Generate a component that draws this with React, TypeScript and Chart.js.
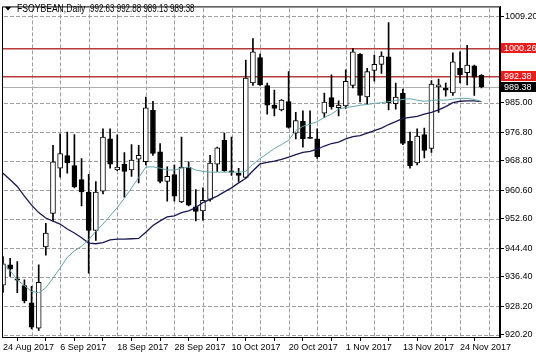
import React, { useEffect, useRef } from 'react';
import { Chart, registerables } from 'chart.js';

Chart.register(...registerables);

const dates = [
  '24 Aug 2017', '25 Aug 2017', '28 Aug 2017', '29 Aug 2017', '30 Aug 2017', '31 Aug 2017',
  '1 Sep 2017', '5 Sep 2017', '6 Sep 2017', '7 Sep 2017', '8 Sep 2017', '11 Sep 2017',
  '12 Sep 2017', '13 Sep 2017', '14 Sep 2017', '15 Sep 2017', '18 Sep 2017', '19 Sep 2017',
  '20 Sep 2017', '21 Sep 2017', '22 Sep 2017', '25 Sep 2017', '26 Sep 2017', '27 Sep 2017',
  '28 Sep 2017', '29 Sep 2017', '2 Oct 2017', '3 Oct 2017', '4 Oct 2017', '5 Oct 2017',
  '6 Oct 2017', '9 Oct 2017', '10 Oct 2017', '11 Oct 2017', '12 Oct 2017', '13 Oct 2017',
  '16 Oct 2017', '17 Oct 2017', '18 Oct 2017', '19 Oct 2017', '20 Oct 2017', '23 Oct 2017',
  '24 Oct 2017', '25 Oct 2017', '26 Oct 2017', '27 Oct 2017', '30 Oct 2017', '31 Oct 2017',
  '1 Nov 2017', '2 Nov 2017', '3 Nov 2017', '6 Nov 2017', '7 Nov 2017', '8 Nov 2017',
  '9 Nov 2017', '10 Nov 2017', '13 Nov 2017', '14 Nov 2017', '15 Nov 2017', '16 Nov 2017',
  '17 Nov 2017', '20 Nov 2017', '21 Nov 2017', '22 Nov 2017', '24 Nov 2017', '27 Nov 2017',
  '28 Nov 2017', '29 Nov 2017',
];

const opens = [
  934.0, 939.7, 935.8, 933.9, 929.1, 922.0, 944.7, 954.1, 966.7, 970.2,
  967.4, 963.5, 960.0, 949.3, 960.3, 974.9, 966.2, 967.8, 966.2, 969.2,
  968.5, 982.9, 971.3, 963.0, 964.9, 957.3, 967.0, 955.9, 954.8, 958.0,
  967.8, 974.5, 966.0, 965.3, 964.1, 990.5, 997.6, 989.8, 984.3, 983.0,
  985.3, 976.5, 979.8, 975.3, 974.9, 982.1, 986.4, 983.6, 984.1, 989.8,
  998.6, 986.6, 994.0, 995.7, 997.8, 984.7, 987.6, 974.2, 968.2, 976.1,
  972.2, 989.4, 989.1, 987.7, 994.6, 993.4, 995.3, 992.63,
];
const highs = [
  942.0, 941.5, 940.6, 935.5, 933.7, 939.7, 951.3, 973.1, 976.3, 976.8,
  976.1, 969.4, 965.0, 963.0, 977.7, 977.7, 976.0, 971.1, 973.3, 973.1,
  986.6, 985.4, 973.6, 967.1, 967.6, 975.4, 968.5, 960.7, 961.2, 970.3,
  972.6, 976.5, 975.4, 966.7, 996.9, 1002.9, 998.6, 990.5, 988.5, 985.9,
  993.7, 982.3, 982.7, 982.7, 977.7, 987.7, 992.8, 985.5, 994.2, 1000.1,
  998.7, 994.6, 998.3, 999.2, 1007.4, 990.5, 988.8, 976.8, 977.7, 977.9,
  991.2, 991.6, 990.5, 998.9, 999.2, 1001.0, 995.5, 992.88,
];
const lows = [
  932.0, 936.5, 931.9, 929.1, 921.8, 921.4, 942.4, 952.0, 964.2, 965.3,
  961.2, 956.2, 937.4, 946.5, 959.5, 966.7, 966.0, 958.6, 964.4, 962.6,
  967.6, 970.3, 962.6, 957.5, 957.5, 957.1, 956.2, 952.0, 952.2, 957.5,
  965.8, 965.8, 964.7, 963.0, 963.9, 989.8, 989.8, 981.8, 981.3, 982.7,
  977.9, 974.9, 972.6, 975.0, 969.4, 980.9, 983.2, 981.3, 983.4, 989.1,
  985.2, 984.5, 991.0, 993.2, 983.0, 983.2, 973.3, 966.7, 967.6, 969.6,
  971.1, 982.3, 986.8, 987.0, 990.5, 990.0, 987.0, 989.13,
];
const closes = [
  940.0, 938.5, 935.4, 929.6, 922.3, 934.8, 948.6, 968.5, 970.8, 968.2,
  961.5, 960.1, 949.3, 960.0, 975.4, 967.8, 967.0, 965.8, 969.0, 970.3,
  983.6, 970.8, 963.0, 964.4, 958.9, 967.0, 956.4, 954.6, 957.7, 968.1,
  972.4, 966.0, 965.6, 964.7, 991.9, 999.2, 990.0, 984.3, 983.4, 985.7,
  978.1, 980.0, 974.9, 975.0, 969.9, 985.2, 983.9, 984.3, 991.0, 999.2,
  987.0, 993.7, 995.7, 998.0, 985.0, 986.6, 973.6, 967.4, 975.7, 971.7,
  990.2, 990.0, 988.5, 996.4, 992.8, 995.5, 992.1, 989.38,
];

const fastMA = [
  940.1, 938.1, 935.5, 933.9, 932.3, 931.9, 933.3, 936.0, 938.8, 941.8,
  943.6, 944.9, 946.7, 949.1, 951.1, 953.4, 955.7, 958.3, 961.2, 964.1,
  967.0, 967.1, 966.7, 966.2, 966.2, 966.7, 967.0, 966.2, 965.8, 965.6,
  965.6, 965.6, 965.6, 965.6, 965.8, 967.8, 969.4, 970.8, 972.2, 973.3,
  974.5, 977.2, 978.4, 979.0, 979.7, 980.9, 981.8, 983.2, 983.7, 983.9,
  984.3, 984.5, 984.8, 985.0, 985.3, 985.6, 985.9, 986.1, 985.7, 985.4,
  985.6, 985.8, 985.7, 986.0, 986.2, 986.2, 985.9, 985.3,
];
const slowMA = [
  965.3, 963.5, 961.6, 958.9, 956.4, 954.3, 952.8, 951.9, 951.1, 949.7,
  948.6, 947.3, 945.8, 945.6, 945.9, 946.7, 946.9, 946.9, 947.0, 947.1,
  948.8, 950.7, 952.0, 953.1, 953.4, 954.3, 954.8, 955.7, 957.1, 958.0,
  958.9, 960.1, 961.2, 962.6, 963.9, 966.0, 967.9, 968.3, 968.7, 969.2,
  969.8, 970.5, 971.1, 971.4, 972.0, 972.9, 973.6, 974.0, 974.9, 975.5,
  975.8, 976.5, 977.2, 977.9, 978.9, 979.7, 980.6, 980.9, 981.2, 981.8,
  982.3, 983.0, 983.9, 985.0, 985.4, 985.5, 985.5, 985.3,
];

const yTickValues = [920.2, 928.2, 936.4, 944.4, 952.6, 960.6, 968.8, 976.8, 985.0, 1009.2];
const xGridStep = 4;
const xLabelStep = 8;
const resistanceLevel = 1000.26;
const supportLevel = 992.38;
const bidLevel = 989.38;
const titleSymbol = 'FSOYBEAN,Daily';
const titleValues = '992.63 992.88 989.13 989.38';

const FONT = '"Liberation Sans", Arial, sans-serif';

export default function App() {
  const canvasRef = useRef<HTMLCanvasElement | null>(null);

  useEffect(() => {
    const canvas = canvasRef.current;
    if (!canvas) return;
    Chart.defaults.font.family = FONT;
    Chart.defaults.font.size = 9;
    Chart.defaults.color = '#000';

    const n = dates.length;
    const idx = dates.map((_, i) => i);
    const xTickValues: number[] = [];
    for (let v = 0; v <= n; v += xGridStep) xTickValues.push(v);

    const gridPlugin = {
      id: 'mtGrid',
      beforeDatasetsDraw(chart: any) {
        const ctx = chart.ctx;
        const area = chart.chartArea;
        const xs = chart.scales.x;
        const ys = chart.scales.y;
        ctx.save();
        ctx.fillStyle = 'rgb(158,158,158)';
        for (let k = 0; k < xTickValues.length; k++) {
          const v = xTickValues[k];
          if (v === 0) continue;
          const x = Math.round(xs.getPixelForValue(v));
          for (let y = area.top + 2; y < area.bottom - 1; y += 6) {
            ctx.fillRect(x, y, 1, 4);
          }
        }
        for (let k = 0; k < yTickValues.length; k++) {
          const y = Math.round(ys.getPixelForValue(yTickValues[k]));
          for (let x = area.left + 2; x < area.right - 1; x += 6) {
            ctx.fillRect(x, y, 4, 1);
          }
        }
        const hline = (v: number, color: string, h: number) => {
          const y = Math.round(ys.getPixelForValue(v));
          ctx.fillStyle = color;
          ctx.fillRect(area.left, y, area.right - area.left, h);
        };
        hline(resistanceLevel, 'rgb(180,60,60)', 1.5);
        hline(supportLevel, 'rgb(180,60,60)', 1.5);
        hline(bidLevel, 'rgb(175,175,175)', 1);
        ctx.restore();
      },
    };

    const overlayPlugin = {
      id: 'mtOverlay',
      afterDraw(chart: any) {
        const { ctx, chartArea } = chart;
        const ys = chart.scales.y;
        ctx.save();
        ctx.strokeStyle = '#000';
        ctx.lineWidth = 1;
        ctx.strokeRect(chartArea.left + 0.5, chartArea.top + 0.5,
          chartArea.right - chartArea.left - 1, chartArea.bottom - chartArea.top);
        ctx.fillStyle = '#000';
        ctx.beginPath();
        ctx.moveTo(5, 7);
        ctx.lineTo(11, 7);
        ctx.lineTo(8, 10.5);
        ctx.closePath();
        ctx.fill();
        ctx.textBaseline = 'middle';
        ctx.textAlign = 'left';
        ctx.save();
        ctx.font = '10px ' + FONT;
        ctx.translate(17, 9);
        ctx.scale(0.86, 1);
        ctx.fillText(titleSymbol, 0, 0);
        ctx.restore();
        ctx.save();
        ctx.font = '10px ' + FONT;
        ctx.translate(90, 9);
        ctx.scale(0.8, 1);
        ctx.fillText(titleValues, 0, 0);
        ctx.restore();
        ctx.font = '9px ' + FONT;
        const tag = (v: number, bg: string) => {
          const y = Math.round(ys.getPixelForValue(v));
          ctx.fillStyle = bg;
          ctx.fillRect(chartArea.right + 1, y - 5, 36, 10);
          ctx.fillStyle = '#fff';
          ctx.fillText(v.toFixed(2), chartArea.right + 4, y + 0.5);
        };
        tag(resistanceLevel, 'rgb(232,30,30)');
        tag(supportLevel, 'rgb(232,30,30)');
        tag(bidLevel, '#000');
        ctx.restore();
      },
    };

    const chart = new Chart(canvas, {
      type: 'bar',
      data: {
        datasets: [
          {
            type: 'line',
            label: 'MA fast',
            data: idx.map((i) => ({ x: i, y: fastMA[i] })),
            borderColor: 'rgb(100,165,170)',
            borderWidth: 1,
            pointRadius: 0,
            tension: 0,
            order: 0,
          } as any,
          {
            type: 'line',
            label: 'MA slow',
            data: idx.map((i) => ({ x: i, y: slowMA[i] })),
            borderColor: 'rgb(25,25,80)',
            borderWidth: 1.3,
            pointRadius: 0,
            tension: 0,
            order: 0,
          } as any,
          {
            type: 'bar',
            label: 'Body',
            data: idx.map((i) => ({ x: i, y: [opens[i], closes[i]] })),
            backgroundColor: idx.map((i) => (closes[i] >= opens[i] ? '#fff' : '#000')),
            borderColor: '#000',
            borderWidth: 1,
            borderSkipped: false,
            barThickness: 5,
            minBarLength: 1,
            grouped: false,
            order: 1,
          } as any,
          {
            type: 'bar',
            label: 'Wick',
            data: idx.map((i) => ({ x: i, y: [lows[i], highs[i]] })),
            backgroundColor: '#000',
            borderWidth: 0,
            barThickness: 1,
            grouped: false,
            order: 2,
          } as any,
        ],
      },
      options: {
        animation: false,
        responsive: false,
        layout: { padding: { top: 2, left: 2, right: 0, bottom: 0 } },
        plugins: { legend: { display: false }, tooltip: { enabled: false } },
        scales: {
          x: {
            type: 'linear',
            min: -0.14,
            max: 69.6,
            offset: false,
            afterBuildTicks: (s: any) => {
              s.ticks = xTickValues.map((v) => ({ value: v }));
            },
            afterFit: (s: any) => { s.height = 20; },
            ticks: {
              autoSkip: false,
              maxRotation: 0,
              minRotation: 0,
              align: 'start',
              padding: 1,
              color: '#000',
              font: { size: 9, family: FONT },
              callback: (v: any) => (v % xLabelStep === 0 && v < n ? dates[v] : ''),
            },
            grid: {
              drawOnChartArea: false,
              color: '#000',
              tickLength: 4,
              tickColor: '#000',
            },
            border: { display: true, color: '#000', width: 1 },
          },
          y: {
            type: 'linear',
            position: 'right',
            min: 919.55,
            max: 1011.9,
            afterBuildTicks: (s: any) => {
              s.ticks = yTickValues.map((v) => ({ value: v }));
            },
            afterFit: (s: any) => { s.width = 36; },
            ticks: {
              autoSkip: false,
              padding: 1,
              color: '#000',
              font: { size: 9, family: FONT },
              callback: (v: any) => Number(v).toFixed(2),
            },
            grid: {
              drawOnChartArea: false,
              color: '#000',
              tickLength: 4,
              tickColor: '#000',
            },
            border: { display: true, color: '#000', width: 1 },
          },
        },
      } as any,
      plugins: [gridPlugin, overlayPlugin],
    });

    return () => chart.destroy();
  }, []);

  return (
    <div style={{ position: 'fixed', left: 0, top: 0, width: 536, height: 357, background: '#fff' }}>
      <canvas ref={canvasRef} width={536} height={357} style={{ display: 'block' }} />
    </div>
  );
}
